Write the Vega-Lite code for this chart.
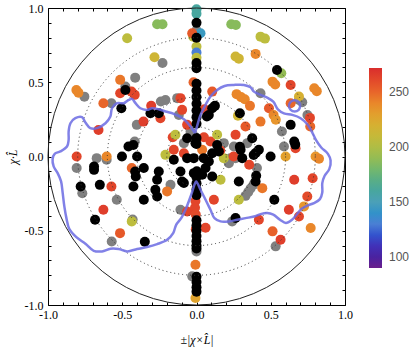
{
"$schema": "https://vega.github.io/schema/vega-lite/v6.json",
"width": 297, "height": 297,
"autosize": "none",
"padding": {"left": 48, "top": 8, "right": 70, "bottom": 43},
"config": {"view": {"stroke": "black", "strokeWidth": 1}, "font": "Liberation Serif"},
"datasets": {
"colored": [
{"x":0,"y":0.991,"t":160},{"x":0,"y":0.962,"t":160},{"x":-0.265,"y":0.89,"t":185},{"x":-0.229,"y":0.89,"t":185},{"x":0.234,"y":0.89,"t":185},{"x":0.265,"y":0.886,"t":185},
{"x":-0.467,"y":0.796,"t":205},{"x":0.431,"y":0.807,"t":205},{"x":0.461,"y":0.794,"t":205},{"x":0.027,"y":0.83,"t":145},{"x":-0.022,"y":0.807,"t":205},{"x":-0.029,"y":0.83,"t":255},
{"x":0,"y":0.74,"t":205},{"x":0,"y":0.7,"t":130},{"x":0,"y":0.665,"t":205},{"x":-0.283,"y":0.668,"t":215},{"x":0.263,"y":0.673,"t":215},{"x":0.285,"y":0.659,"t":215},
{"x":0.398,"y":0.691,"t":240},{"x":0.571,"y":0.561,"t":190},{"x":0.512,"y":0.504,"t":240},{"x":0.53,"y":0.485,"t":240},{"x":0.634,"y":0.482,"t":262},{"x":0.793,"y":0.46,"t":240},{"x":0.81,"y":0.44,"t":240},
{"x":-0.514,"y":0.516,"t":245},{"x":-0.809,"y":0.448,"t":240},{"x":-0.795,"y":0.43,"t":240},{"x":-0.514,"y":0.426,"t":262},{"x":-0.438,"y":0.437,"t":262},{"x":-0.416,"y":0.415,"t":262},
{"x":-0.627,"y":0.359,"t":250},{"x":-0.66,"y":0.179,"t":265},{"x":-0.357,"y":0.235,"t":265},{"x":-0.305,"y":0.342,"t":265},{"x":-0.243,"y":0.258,"t":262},{"x":-0.108,"y":0.393,"t":262},
{"x":-0.097,"y":0.314,"t":262},{"x":-0.063,"y":0.213,"t":262},{"x":-0.16,"y":0.13,"t":262},{"x":-0.142,"y":0.146,"t":205},{"x":-0.02,"y":0.5,"t":252},
{"x":0.106,"y":0.437,"t":255},{"x":0.054,"y":0.318,"t":262},{"x":0.27,"y":0.42,"t":240},{"x":0.3,"y":0.4,"t":240},{"x":0.325,"y":0.385,"t":240},{"x":0.36,"y":0.341,"t":245},
{"x":0.279,"y":0.274,"t":215},{"x":0.488,"y":0.325,"t":255},{"x":0.519,"y":0.28,"t":240},{"x":0.534,"y":0.247,"t":235},{"x":0.431,"y":0.235,"t":245},{"x":0.33,"y":0.202,"t":255},
{"x":0.634,"y":0.359,"t":250},{"x":0.69,"y":0.404,"t":220},{"x":0.766,"y":0.202,"t":250},{"x":0.764,"y":0.26,"t":262},{"x":0.667,"y":0.056,"t":262},
{"x":0.038,"y":0.045,"t":245},{"x":0.094,"y":0.101,"t":262},{"x":0.139,"y":0.146,"t":205},{"x":0.263,"y":0.146,"t":262},{"x":0.184,"y":-0.011,"t":205},{"x":0.162,"y":-0.157,"t":205},
{"x":0.05,"y":0.13,"t":262},{"x":0.16,"y":0.04,"t":262},{"x":0.25,"y":0.0,"t":262},{"x":0.355,"y":-0.056,"t":262},{"x":-0.209,"y":0.011,"t":205},{"x":-0.153,"y":0.045,"t":262},{"x":-0.085,"y":0.022,"t":262},
{"x":0.6,"y":0.0,"t":230},{"x":0.802,"y":0.0,"t":235},{"x":0.825,"y":-0.015,"t":240},{"x":0.658,"y":-0.157,"t":265},{"x":0.782,"y":-0.146,"t":262},{"x":0.746,"y":-0.269,"t":260},
{"x":0.724,"y":-0.336,"t":235},{"x":0.69,"y":-0.404,"t":262},{"x":0.622,"y":-0.359,"t":265},{"x":0.512,"y":-0.504,"t":252},{"x":0.566,"y":-0.561,"t":265},{"x":0.769,"y":-0.482,"t":240},
{"x":0.42,"y":-0.426,"t":262},{"x":0.443,"y":-0.213,"t":245},{"x":0.285,"y":-0.291,"t":205},{"x":0.117,"y":-0.291,"t":262},{"x":0.061,"y":-0.48,"t":262},
{"x":-0.807,"y":0.0,"t":262},{"x":-0.605,"y":0.0,"t":240},{"x":-0.436,"y":-0.078,"t":250},{"x":-0.573,"y":-0.202,"t":262},{"x":-0.627,"y":-0.359,"t":265},{"x":-0.436,"y":-0.437,"t":205},
{"x":-0.515,"y":-0.516,"t":255},{"x":-0.198,"y":-0.235,"t":245},{"x":-0.063,"y":-0.37,"t":262},
{"x":-0.007,"y":-0.3,"t":262},{"x":-0.01,"y":-0.345,"t":262},{"x":-0.005,"y":-0.39,"t":260},{"x":-0.005,"y":-0.49,"t":262},{"x":-0.007,"y":-0.729,"t":245},{"x":-0.007,"y":-0.953,"t":228}
],
"gray": [
{"x":0,"y":0.85},{"x":-0.229,"y":0.63},{"x":-0.413,"y":0.531},{"x":-0.479,"y":0.471},{"x":-0.755,"y":0.403},{"x":-0.573,"y":0.359},{"x":-0.402,"y":0.213},{"x":-0.24,"y":0.37},
{"x":-0.209,"y":0.381},{"x":-0.13,"y":0.393},{"x":-0.119,"y":0.28},{"x":-0.04,"y":0.168},{"x":-0.025,"y":0.15},{"x":-0.085,"y":0.09},{"x":0.184,"y":0.09},{"x":0.252,"y":0.067},
{"x":0.342,"y":0.09},{"x":0.229,"y":-0.011},{"x":0.263,"y":-0.011},{"x":0.218,"y":-0.045},{"x":0.431,"y":0.426},{"x":0.69,"y":0.381},{"x":0.712,"y":0.365},{"x":0.747,"y":0.28},
{"x":0.575,"y":0.168},{"x":0.589,"y":0.067},{"x":0.407,"y":-0.078},{"x":0.384,"y":-0.19},{"x":0.364,"y":-0.215},{"x":0.348,"y":-0.24},{"x":0.33,"y":-0.265},{"x":0.24,"y":-0.437},
{"x":0.533,"y":-0.605},{"x":-0.807,"y":-0.078},{"x":-0.672,"y":-0.011},{"x":-0.605,"y":-0.022},{"x":-0.769,"y":-0.247},{"x":-0.537,"y":-0.291},{"x":-0.416,"y":0.101},
{"x":-0.175,"y":-0.191},{"x":-0.43,"y":-0.425},{"x":-0.571,"y":-0.572},{"x":-0.108,"y":-0.359},{"x":-0.029,"y":-0.807},{"x":0,"y":-0.64}
],
"black": [
{"x":0,"y":0.9},{"x":0,"y":0.8},{"x":0,"y":0.63},{"x":0,"y":0.595},{"x":0,"y":0.49},{"x":0,"y":0.445},{"x":0,"y":0.4},{"x":0,"y":0.355},{"x":0,"y":0.31},{"x":0,"y":0.265},
{"x":0,"y":0.22},{"x":0,"y":0.125},{"x":0,"y":0.085},{"x":0.002,"y":-0.1},{"x":0,"y":-0.14},{"x":0,"y":-0.18},{"x":0,"y":-0.22},{"x":0,"y":-0.26},{"x":0,"y":-0.43},{"x":0,"y":-0.465},
{"x":0,"y":-0.5},{"x":0,"y":-0.535},{"x":0,"y":-0.57},{"x":0,"y":-0.6},{"x":0,"y":-0.62},{"x":0,"y":-0.81},{"x":0,"y":-0.845},{"x":0,"y":-0.88},{"x":0,"y":-0.91},
{"x":0.542,"y":0.583},{"x":-0.479,"y":0.448},{"x":-0.506,"y":0.325},{"x":-0.31,"y":0.291},{"x":-0.254,"y":0.291},{"x":0.07,"y":0.269},{"x":0.106,"y":0.325},{"x":0.124,"y":0.341},
{"x":0.083,"y":0.28},{"x":0.292,"y":0.291},{"x":0.634,"y":0.213},{"x":0.658,"y":0.101},{"x":0.665,"y":0.08},{"x":0.375,"y":0.123},{"x":0.42,"y":0.045},{"x":0.4,"y":0.025},
{"x":0.385,"y":0.01},{"x":0.499,"y":0.0},{"x":0.402,"y":-0.13},{"x":0.398,"y":-0.168},{"x":0.524,"y":-0.291},{"x":0.263,"y":-0.414},{"x":0.292,"y":0.065},{"x":0.297,"y":0.045},
{"x":0.308,"y":-0.011},{"x":0.285,"y":-0.168},{"x":0.106,"y":0.022},{"x":0.151,"y":0.034},{"x":0.139,"y":0.078},{"x":0.061,"y":-0.078},{"x":0.083,"y":-0.034},{"x":0.049,"y":-0.011},
{"x":0.038,"y":-0.123},{"x":0.106,"y":-0.135},{"x":-0.018,"y":-0.112},{"x":-0.018,"y":-0.011},{"x":-0.063,"y":-0.011},{"x":-0.153,"y":-0.022},{"x":-0.108,"y":-0.101},
{"x":-0.097,"y":-0.168},{"x":-0.085,"y":-0.179},{"x":-0.063,"y":0.123},{"x":-0.007,"y":0.09},{"x":-0.355,"y":-0.078},{"x":-0.254,"y":-0.101},{"x":-0.265,"y":-0.157},
{"x":-0.277,"y":-0.224},{"x":-0.265,"y":-0.269},{"x":-0.355,"y":-0.291},{"x":-0.502,"y":0.0},{"x":-0.458,"y":0.067},{"x":-0.425,"y":0.078},{"x":-0.4,"y":0.0},{"x":-0.69,"y":-0.067},
{"x":-0.69,"y":-0.09},{"x":-0.413,"y":-0.101},{"x":-0.409,"y":-0.135},{"x":-0.78,"y":-0.202},{"x":-0.651,"y":-0.191},{"x":-0.425,"y":-0.202},{"x":-0.683,"y":-0.426},{"x":-0.348,"y":-0.574}
],
"rings": [{"x":0,"y":0,"r":0.2},{"x":0,"y":0,"r":0.4},{"x":0,"y":0,"r":0.6},{"x":0,"y":0,"r":0.8}],
"outer": [{"x":0,"y":0,"r":1}],
"contour": [
{"g":"m","i":0,"x":-0.011,"y":0.157},{"g":"m","i":1,"x":-0.04,"y":0.202},{"g":"m","i":2,"x":-0.085,"y":0.251},{"g":"m","i":3,"x":-0.153,"y":0.287},{"g":"m","i":4,"x":-0.209,"y":0.303},
{"g":"m","i":5,"x":-0.254,"y":0.318},{"g":"m","i":6,"x":-0.299,"y":0.325},{"g":"m","i":7,"x":-0.333,"y":0.314},{"g":"m","i":8,"x":-0.378,"y":0.325},{"g":"m","i":9,"x":-0.411,"y":0.359},
{"g":"m","i":10,"x":-0.434,"y":0.388},{"g":"m","i":11,"x":-0.456,"y":0.381},{"g":"m","i":12,"x":-0.49,"y":0.359},{"g":"m","i":13,"x":-0.535,"y":0.359},{"g":"m","i":14,"x":-0.569,"y":0.325},
{"g":"m","i":15,"x":-0.58,"y":0.269},{"g":"m","i":16,"x":-0.613,"y":0.224},{"g":"m","i":17,"x":-0.67,"y":0.191},{"g":"m","i":18,"x":-0.715,"y":0.191},{"g":"m","i":19,"x":-0.748,"y":0.229},
{"g":"m","i":20,"x":-0.771,"y":0.265},{"g":"m","i":21,"x":-0.816,"y":0.258},{"g":"m","i":22,"x":-0.849,"y":0.224},{"g":"m","i":23,"x":-0.861,"y":0.168},{"g":"m","i":24,"x":-0.861,"y":0.112},
{"g":"m","i":25,"x":-0.872,"y":0.067},{"g":"m","i":26,"x":-0.917,"y":0.034},{"g":"m","i":27,"x":-0.955,"y":0.018},{"g":"m","i":28,"x":-0.969,"y":-0.018},{"g":"m","i":29,"x":-0.962,"y":-0.067},
{"g":"m","i":30,"x":-0.935,"y":-0.112},{"g":"m","i":31,"x":-0.912,"y":-0.168},{"g":"m","i":32,"x":-0.901,"y":-0.247},{"g":"m","i":33,"x":-0.89,"y":-0.336},{"g":"m","i":34,"x":-0.876,"y":-0.415},
{"g":"m","i":35,"x":-0.856,"y":-0.489},{"g":"m","i":36,"x":-0.809,"y":-0.543},{"g":"m","i":37,"x":-0.748,"y":-0.587},{"g":"m","i":38,"x":-0.692,"y":-0.635},{"g":"m","i":39,"x":-0.636,"y":-0.639},
{"g":"m","i":40,"x":-0.58,"y":-0.621},{"g":"m","i":41,"x":-0.524,"y":-0.623},{"g":"m","i":42,"x":-0.467,"y":-0.639},{"g":"m","i":43,"x":-0.4,"y":-0.623},{"g":"m","i":44,"x":-0.333,"y":-0.61},
{"g":"m","i":45,"x":-0.265,"y":-0.59},{"g":"m","i":46,"x":-0.198,"y":-0.561},{"g":"m","i":47,"x":-0.157,"y":-0.516},{"g":"m","i":48,"x":-0.137,"y":-0.46},{"g":"m","i":49,"x":-0.103,"y":-0.415},
{"g":"m","i":50,"x":-0.067,"y":-0.341},{"g":"m","i":51,"x":-0.036,"y":-0.258},{"g":"m","i":52,"x":-0.011,"y":-0.184},{"g":"m","i":53,"x":-0.002,"y":-0.168},{"g":"m","i":54,"x":0.027,"y":-0.224},
{"g":"m","i":55,"x":0.061,"y":-0.291},{"g":"m","i":56,"x":0.094,"y":-0.359},{"g":"m","i":57,"x":0.121,"y":-0.415},{"g":"m","i":58,"x":0.162,"y":-0.437},{"g":"m","i":59,"x":0.218,"y":-0.437},
{"g":"m","i":60,"x":0.274,"y":-0.426},{"g":"m","i":61,"x":0.33,"y":-0.415},{"g":"m","i":62,"x":0.387,"y":-0.404},{"g":"m","i":63,"x":0.431,"y":-0.388},{"g":"m","i":64,"x":0.476,"y":-0.381},
{"g":"m","i":65,"x":0.517,"y":-0.392},{"g":"m","i":66,"x":0.562,"y":-0.426},{"g":"m","i":67,"x":0.602,"y":-0.448},{"g":"m","i":68,"x":0.643,"y":-0.426},{"g":"m","i":69,"x":0.674,"y":-0.392},
{"g":"m","i":70,"x":0.706,"y":-0.354},{"g":"m","i":71,"x":0.742,"y":-0.332},{"g":"m","i":72,"x":0.791,"y":-0.314},{"g":"m","i":73,"x":0.831,"y":-0.287},{"g":"m","i":74,"x":0.847,"y":-0.242},
{"g":"m","i":75,"x":0.847,"y":-0.179},{"g":"m","i":76,"x":0.863,"y":-0.13},{"g":"m","i":77,"x":0.894,"y":-0.085},{"g":"m","i":78,"x":0.903,"y":-0.027},{"g":"m","i":79,"x":0.885,"y":0.018},
{"g":"m","i":80,"x":0.84,"y":0.061},{"g":"m","i":81,"x":0.804,"y":0.112},{"g":"m","i":82,"x":0.773,"y":0.175},{"g":"m","i":83,"x":0.746,"y":0.217},{"g":"m","i":84,"x":0.701,"y":0.258},
{"g":"m","i":85,"x":0.645,"y":0.28},{"g":"m","i":86,"x":0.589,"y":0.291},{"g":"m","i":87,"x":0.548,"y":0.318},{"g":"m","i":88,"x":0.517,"y":0.37},{"g":"m","i":89,"x":0.476,"y":0.397},
{"g":"m","i":90,"x":0.431,"y":0.415},{"g":"m","i":91,"x":0.387,"y":0.437},{"g":"m","i":92,"x":0.364,"y":0.466},{"g":"m","i":93,"x":0.319,"y":0.482},{"g":"m","i":94,"x":0.252,"y":0.482},
{"g":"m","i":95,"x":0.189,"y":0.475},{"g":"m","i":96,"x":0.139,"y":0.448},{"g":"m","i":97,"x":0.094,"y":0.404},{"g":"m","i":98,"x":0.061,"y":0.348},{"g":"m","i":99,"x":0.027,"y":0.28},
{"g":"m","i":100,"x":0.0,"y":0.191},{"g":"m","i":101,"x":-0.011,"y":0.157},
{"g":"l","i":0,"x":0.699,"y":0.341},{"g":"l","i":1,"x":0.688,"y":0.368},{"g":"l","i":2,"x":0.661,"y":0.379},{"g":"l","i":3,"x":0.634,"y":0.368},{"g":"l","i":4,"x":0.622,"y":0.341},
{"g":"l","i":5,"x":0.634,"y":0.314},{"g":"l","i":6,"x":0.661,"y":0.303},{"g":"l","i":7,"x":0.688,"y":0.314},{"g":"l","i":8,"x":0.699,"y":0.341}
]
},
"layer": [
{
"data": {"name": "gray"},
"mark": {"type": "circle", "size": 100, "opacity": 1, "color": "#808080"},
"encoding": {
"x": {"field": "x", "type": "quantitative", "scale": {"domain": [-1, 1], "nice": false, "zero": false},
"axis": {"orient": "bottom", "values": [-1,-0.9,-0.8,-0.7,-0.6,-0.5,-0.4,-0.3,-0.2,-0.1,0,0.1,0.2,0.3,0.4,0.5,0.6,0.7,0.8,0.9,1],
"labelExpr": "abs(datum.value*2 - round(datum.value*2)) < 0.001 ? (datum.value < 0 ? '-' : '') + format(abs(datum.value), '.1f') : ''",
"labelFlush": false, "labelOverlap": false, "tickSize": -3, "labelPadding": 7, "domain": false, "grid": false,
"labelFont": "Liberation Serif", "labelFontSize": 12, "labelColor": "black", "tickColor": "black",
"title": "±|χ×L̂|", "titleFont": "Liberation Serif", "titleFontSize": 12, "titleFontWeight": "normal", "titleFontStyle": "italic", "titleColor": "black", "titlePadding": 14}},
"y": {"field": "y", "type": "quantitative", "scale": {"domain": [-1, 1], "nice": false, "zero": false},
"axis": {"orient": "left", "values": [-1,-0.9,-0.8,-0.7,-0.6,-0.5,-0.4,-0.3,-0.2,-0.1,0,0.1,0.2,0.3,0.4,0.5,0.6,0.7,0.8,0.9,1],
"labelExpr": "abs(datum.value*2 - round(datum.value*2)) < 0.001 ? (datum.value < 0 ? '-' : '') + format(abs(datum.value), '.1f') : ''",
"labelFlush": false, "labelOverlap": false, "tickSize": -3, "labelPadding": 8, "domain": false, "grid": false,
"labelFont": "Liberation Serif", "labelFontSize": 12, "labelColor": "black", "tickColor": "black",
"title": "χ·L̂", "titleFont": "Liberation Serif", "titleFontSize": 12, "titleFontWeight": "normal", "titleFontStyle": "italic", "titleColor": "black", "titlePadding": 5}}
}
},
{
"data": {"name": "colored"},
"mark": {"type": "circle", "size": 100, "opacity": 1},
"encoding": {
"x": {"field": "x", "type": "quantitative", "axis": null},
"y": {"field": "y", "type": "quantitative", "axis": null},
"color": {"field": "t", "type": "quantitative",
"scale": {"domain": [90,100,115,130,150,165,185,205,220,235,250,262,272],
"range": ["#6a1f8c","#4a22a0","#3838c4","#4a7fd4","#4ba0b8","#55a890","#88bb5c","#bdbd3e","#d6b032","#e8962e","#e8662a","#e2452a","#d92d2d"]},
"legend": {"orient": "none", "legendX": 321, "legendY": 60, "direction": "vertical", "gradientLength": 200, "gradientThickness": 13,
"values": [100,150,200,250], "title": null, "padding": 0, "labelFont": "Liberation Sans", "labelFontSize": 12, "labelColor": "#555555", "labelOffset": 7, "gradientStrokeWidth": 0}}
}
},
{
"data": {"name": "black"},
"mark": {"type": "circle", "size": 100, "opacity": 1, "color": "#000000"},
"encoding": {
"x": {"field": "x", "type": "quantitative", "axis": null},
"y": {"field": "y", "type": "quantitative", "axis": null}
}
},
{
"data": {"name": "rings"},
"mark": {"type": "point", "shape": "circle", "filled": false, "opacity": 1, "stroke": "#333333", "strokeWidth": 1, "strokeDash": [1, 3]},
"encoding": {
"x": {"field": "x", "type": "quantitative", "axis": null},
"y": {"field": "y", "type": "quantitative", "axis": null},
"size": {"field": "r", "type": "quantitative", "scale": {"type": "pow", "exponent": 2, "domain": [0, 1], "range": [0, 88209]}, "legend": null}
}
},
{
"data": {"name": "outer"},
"mark": {"type": "point", "shape": "circle", "filled": false, "opacity": 1, "stroke": "#222222", "strokeWidth": 1},
"encoding": {
"x": {"field": "x", "type": "quantitative", "axis": null},
"y": {"field": "y", "type": "quantitative", "axis": null},
"size": {"field": "r", "type": "quantitative", "scale": {"type": "pow", "exponent": 2, "domain": [0, 1], "range": [0, 88209]}, "legend": null}
}
},
{
"data": {"name": "contour"},
"mark": {"type": "line", "interpolate": "catmull-rom", "color": "#6b6be3", "strokeWidth": 2.5, "opacity": 0.85},
"encoding": {
"x": {"field": "x", "type": "quantitative",
"axis": {"orient": "top", "values": [-1,-0.9,-0.8,-0.7,-0.6,-0.5,-0.4,-0.3,-0.2,-0.1,0,0.1,0.2,0.3,0.4,0.5,0.6,0.7,0.8,0.9,1], "labels": false, "tickSize": -3, "domain": false, "grid": false, "tickColor": "black", "title": null}},
"y": {"field": "y", "type": "quantitative",
"axis": {"orient": "right", "values": [-1,-0.9,-0.8,-0.7,-0.6,-0.5,-0.4,-0.3,-0.2,-0.1,0,0.1,0.2,0.3,0.4,0.5,0.6,0.7,0.8,0.9,1], "labels": false, "tickSize": -3, "domain": false, "grid": false, "tickColor": "black", "title": null}},
"order": {"field": "i", "type": "quantitative"},
"detail": {"field": "g", "type": "nominal"}
}
}
],
"resolve": {"axis": {"x": "independent", "y": "independent"}}
}
